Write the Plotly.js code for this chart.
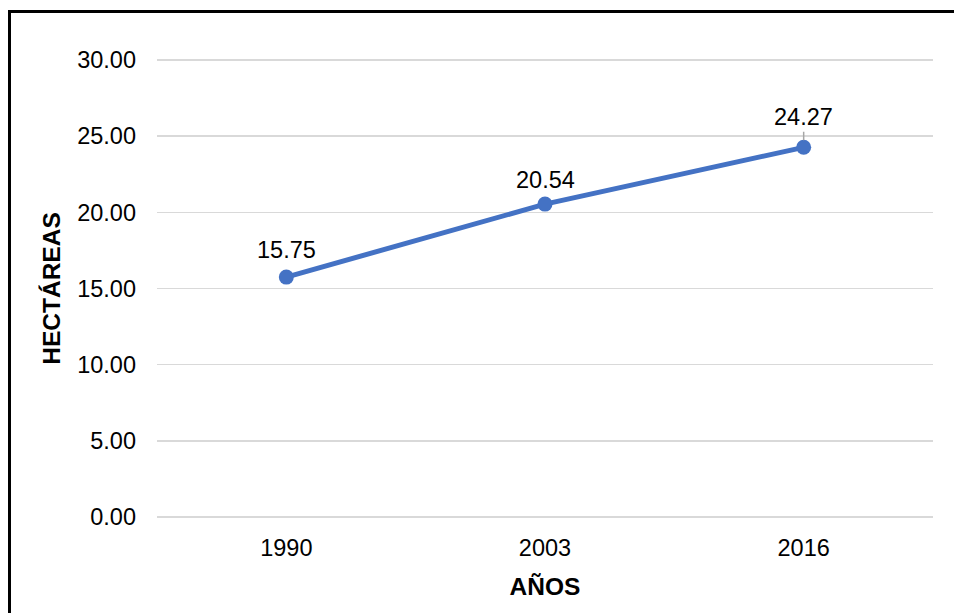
<!DOCTYPE html>
<html>
<head>
<meta charset="utf-8">
<script src="https://cdn.plot.ly/plotly-3.0.1.min.js"></script>
<style>
  html, body { margin: 0; padding: 0; background: #fff; }
  #wrap { position: relative; width: 954px; height: 613px; overflow: hidden; }
  #chart { position: absolute; left: 0; top: 0; width: 954px; height: 613px; }
  #frame { position: absolute; left: 8px; top: 10px; width: 1000px; height: 700px;
           border-top: 3px solid #000; border-left: 3px solid #000; pointer-events: none; z-index: 5; }
</style>
</head>
<body>
<div id="wrap">
  <div id="chart"></div>
  <div id="frame"></div>
</div>
<script>
const years = ['1990', '2003', '2016'];
const hectares = [15.75, 20.54, 24.27];
const labelShift = [27, 24, 30];
const leader = [false, false, true];
const yTicks = [0, 5, 10, 15, 20, 25, 30];

const FONT = 'Liberation Sans, Arial, sans-serif';

const trace = {
  x: years,
  y: hectares,
  type: 'scatter',
  mode: 'lines+markers',
  line: { color: '#4472C4', width: 5 },
  marker: { color: '#4472C4', size: 15 },
  hoverinfo: 'skip'
};

const annotations = years.map((yr, i) => {
  const a = {
    x: i, y: hectares[i], xref: 'x', yref: 'y',
    text: hectares[i].toFixed(2),
    font: { family: FONT, size: 23.5, color: '#000' }
  };
  if (leader[i]) {
    Object.assign(a, { showarrow: true, axref: 'pixel', ayref: 'pixel', ax: 0, ay: -labelShift[i], arrowhead: 0,
      arrowcolor: '#a6a6a6', arrowwidth: 1.5, standoff: 7 });
  } else {
    Object.assign(a, { showarrow: false, yshift: labelShift[i] });
  }
  return a;
});

const layout = {
  width: 954, height: 613,
  margin: { l: 157, r: 21, t: 57, b: 93 },
  paper_bgcolor: '#fff', plot_bgcolor: '#fff',
  showlegend: false,
  font: { family: FONT, size: 23.5, color: '#000' },
  xaxis: {
    type: 'category',
    range: [-0.5, 2.5],
    showgrid: false, zeroline: false, showline: false,
    ticks: '', ticklabelstandoff: 11,
    tickfont: { family: FONT, size: 23.5, color: '#000' },
    title: { text: '<b>AÑOS</b>', font: { family: FONT, size: 24.5, color: '#000' }, standoff: 18 }
  },
  yaxis: {
    range: [-0.2, 30.2],
    tickvals: yTicks,
    ticktext: yTicks.map(v => v.toFixed(2)),
    showgrid: true, gridcolor: '#d9d9d9', gridwidth: 1.5,
    zeroline: true, zerolinecolor: '#d9d9d9', zerolinewidth: 1.5, showline: false,
    ticks: '', ticklabelstandoff: 20,
    tickfont: { family: FONT, size: 23.5, color: '#000' },
    title: { text: '<b>HECTÁREAS</b>', font: { family: FONT, size: 24.5, color: '#000' }, standoff: 9 }
  },
  annotations: annotations
};

Plotly.newPlot('chart', [trace], layout, { displayModeBar: false, staticPlot: true });
</script>
</body>
</html>
